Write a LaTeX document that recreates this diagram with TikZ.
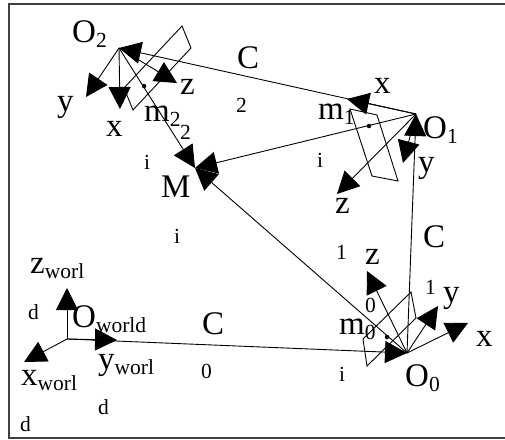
\documentclass[tikz,border=0pt]{standalone}
\usepackage{fontspec}
\setmainfont{Liberation Serif}
\usetikzlibrary{arrows.meta}
\newcommand{\bigfont}{\fontsize{33}{33}\selectfont}
\newcommand{\subfont}{\fontsize{21.5}{21.5}\selectfont}
\newcommand{\lowsub}[1]{\raisebox{-5pt}{\subfont #1}}
\begin{document}
\begin{tikzpicture}[
  x=1pt,y=-1pt,
  big/.style={anchor=base west,inner sep=0pt,font=\bigfont},
  small/.style={anchor=base west,inner sep=0pt,font=\subfont},
  flow/.style={-{Triangle[length=22pt,width=22pt]},line width=0.9pt},
  plane/.style={line width=0.9pt,line join=miter},
  spot/.style={circle,fill=black,minimum size=4.5pt,inner sep=0pt}
]
\useasboundingbox (0,0) rectangle (505,439);
\draw[line width=1.1pt,draw=black!75] (505,4) -- (9,4) -- (9,438) -- (505,438);

% camera centres
\coordinate (Otwo) at (119,48);
\coordinate (Oone) at (416,114);
\coordinate (Ozero) at (407,353);
\coordinate (Oworld) at (67,339);
\coordinate (Mpoint) at (195,168);

% image planes
\draw[plane] (182,26) -- (191,48) -- (133,110) -- (124,88) -- cycle;
\draw[plane] (350,109) -- (377,115) -- (398,181) -- (372,176) -- cycle;
\draw[plane] (411,292) -- (416,318) -- (367,366) -- (363,339) -- cycle;

% projection points
\node[spot] (mtwo) at (144,86) {};
\node[spot] (mone) at (369,126) {};
\node[spot] (mzero) at (387,337) {};

% camera path
\draw[flow] (Oone) -- (Otwo);
\draw[flow] (Ozero) -- (Oone);
\draw[flow] (Oworld) -- (Ozero);

% rays to M
\draw[flow] (Otwo) -- (Mpoint);
\draw[flow] (Oone) -- (Mpoint);
\draw[flow] (Ozero) -- (Mpoint);

% axes
\foreach \name/\tipx/\tipy in {twox/120/109,twoy/86/97,twoz/177/83} {
  \coordinate (\name) at (\tipx,\tipy);
  \draw[flow] (Otwo) -- (\name);
}
\foreach \name/\tipx/\tipy in {onex/347/99,oney/403/163,onez/337/194} {
  \coordinate (\name) at (\tipx,\tipy);
  \draw[flow] (Oone) -- (\name);
}
\foreach \name/\tipx/\tipy in {zerox/468/323,zeroy/438/306,zeroz/367/271} {
  \coordinate (\name) at (\tipx,\tipy);
  \draw[flow] (Ozero) -- (\name);
}
\foreach \name/\tipx/\tipy in {worldx/24/362,worldy/117/340,worldz/67/288} {
  \coordinate (\name) at (\tipx,\tipy);
  \draw[flow] (Oworld) -- (\name);
}

% large labels
\node[big] (labOtwo) at (72,42) {O\lowsub{2}};
\node[big] (labOone) at (423,138) {O\lowsub{1}};
\node[big] (labOzero) at (405,386) {O\lowsub{0}};
\node[big] (labOworld) at (72,327) {O\lowsub{world}};
\node[big] (labM) at (161,197) {M};
\node[big] (labmtwo) at (144,121) {m\lowsub{2}};
\node[big] (labmone) at (318,119) {m\lowsub{1}};
\node[big] (labmzero) at (339,334) {m\lowsub{0}};
\node[big] (labCtwo) at (237,68) {C};
\node[big] (labCone) at (423,247) {C};
\node[big] (labCzero) at (202,334) {C};
\node[big] (labxtwo) at (106,136) {x};
\node[big] (labytwo) at (57,111) {y};
\node[big] (labztwo) at (180,94) {z};
\node[big] (labxone) at (374,93) {x};
\node[big] (labyone) at (418,172) {y};
\node[big] (labzone) at (335,213) {z};
\node[big] (labxzero) at (476,346) {x};
\node[big] (labyzero) at (443,302) {y};
\node[big] (labzzero) at (365,264) {z};
\node[big] (labxworld) at (21,385) {x\lowsub{worl}};
\node[big] (labyworld) at (98,369) {y\lowsub{worl}};
\node[big] (labzworld) at (30,273) {z\lowsub{worl}};

% wrapped remainders
\foreach \name/\posx/\posy/\txt in {
  rtwoa/236/112/2, rtwob/180/139/2, rzero/201/378/0, rzerob/365/312/0,
  roneb/336/259/1, ronec/425/294/1,
  ria/144/169/i, rib/174/243/i, ric/317/167/i, rid/339/381/i,
  rda/28/319/d, rdb/98/414/d, rdc/20/431/d} {
  \node[small] (\name) at (\posx,\posy) {\txt};
}
\end{tikzpicture}
\end{document}
